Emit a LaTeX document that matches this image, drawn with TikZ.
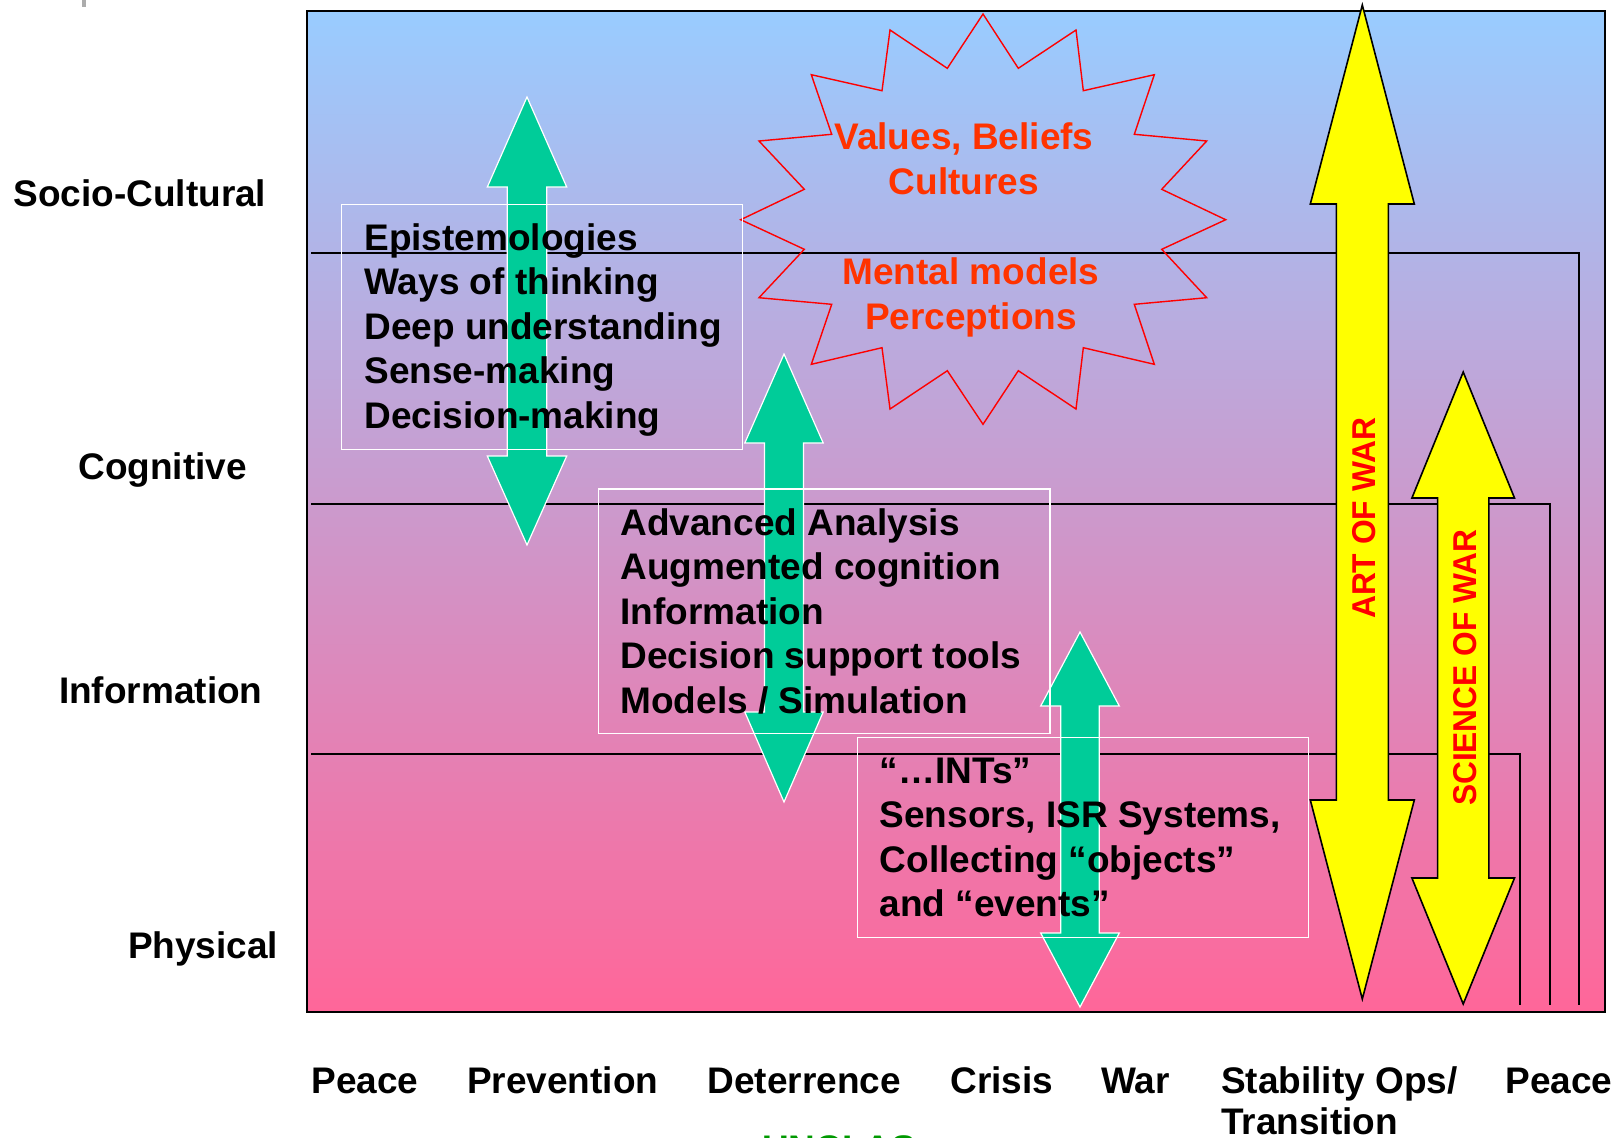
\documentclass[tikz,border=0pt]{standalone}
\usepackage{fontspec}
\setmainfont{Liberation Sans}
\usepackage{graphicx}
\definecolor{skyblue}{HTML}{99CCFF}
\definecolor{rosepink}{HTML}{FF6699}
\definecolor{seagreen}{HTML}{00CC99}
\definecolor{burstred}{HTML}{FF3300}
\definecolor{classgreen}{HTML}{009900}
\definecolor{brightyellow}{HTML}{FFFF00}
% vertical two-headed block arrow:
% #1 style, #2 centre x, #3 top tip, #4 top head base, #5 bottom head base,
% #6 bottom tip, #7 head half width, #8 shaft half width
\newcommand\twoway[8]{%
  \path[#1] (#2,#3) -- ({#2+#7},#4) -- ({#2+#8},#4) -- ({#2+#8},#5) -- ({#2+#7},#5)
    -- (#2,#6) -- ({#2-#7},#5) -- ({#2-#8},#5) -- ({#2-#8},#4) -- ({#2-#7},#4) -- cycle;}
\begin{document}
\begin{tikzpicture}[x=0.5pt,y=-0.5pt,
  txt/.style={font=\bfseries\fontsize{18.5pt}{22pt}\selectfont, anchor=base west, inner sep=0pt},
  bursttxt/.style={font=\bfseries\fontsize{18.5pt}{22pt}\selectfont, anchor=base, inner sep=0pt, text=burstred},
  warlbl/.style={font=\bfseries\fontsize{16.5pt}{20pt}\selectfont, text=red, inner sep=0pt, rotate=90},
  sepline/.style={draw=black, line width=0.75pt},
  greenarrow/.style={fill=seagreen, draw=white, line width=0.6pt, line join=miter},
  yellowarrow/.style={fill=brightyellow, draw=black, line width=0.8pt, line join=miter},
  textbox/.style={draw=white, line width=0.6pt},
  burstline/.style={draw=red, line width=0.7pt, line join=miter}]
\useasboundingbox (0,0) rectangle (1615,1137);

% small grey fragment at the top edge
\fill[gray!65] (82,0) rectangle (85.5,7);

% graded background of the domain chart
\shade[top color=skyblue, bottom color=rosepink] (307,11) rectangle (1605,1012);

% domain boundaries, each turning down at the right
\draw[sepline] (311,253) -| (1579,1005);
\draw[sepline] (311,504) -| (1550,1005);
\draw[sepline] (311,754) -| (1520,1005);

% frame
\draw[black, line width=1pt] (307,11) rectangle (1605,1012);

% starburst
\draw[burstline] (983,14) -- (1018.3,68.3) -- (1076,30) -- (1083.3,90.7) -- (1154.3,74.7)
  -- (1134.3,134.3) -- (1206.7,141) -- (1161.7,189.3) -- (1225.7,219.7) -- (1161.7,249.3)
  -- (1206.7,297.7) -- (1134.3,304.3) -- (1154.3,364.3) -- (1083.3,347.7) -- (1076,409)
  -- (1018.3,370.7) -- (983,424.3) -- (947.3,370.7) -- (890,409) -- (882,347.7)
  -- (811.3,364.3) -- (831.7,304.3) -- (759,297.7) -- (804.3,249.3) -- (740.7,219.7)
  -- (804.3,189.3) -- (759,141) -- (831.7,134.3) -- (811.3,74.7) -- (882,90.7)
  -- (890,30) -- (947.3,68.3) -- cycle;
\node[bursttxt] (values) at (964,149.3) {Values, Beliefs};
\node[bursttxt] (cultures) at (964,194.3) {Cultures};
\node[bursttxt] (mental) at (971,284.3) {Mental models};
\node[bursttxt] (percep) at (971,329.3) {Perceptions};

% green two-way arrows
\twoway{greenarrow}{527}{97}{187}{456}{545}{39.7}{19.7}
\twoway{greenarrow}{784}{354}{443}{712}{802}{39.2}{19.5}
\twoway{greenarrow}{1080}{632}{706}{933}{1007}{39.3}{19.3}

% yellow two-way arrows
\twoway{yellowarrow}{1362.3}{5}{204}{800}{999}{52}{26}
\twoway{yellowarrow}{1463.2}{372}{498}{878}{1004}{51.3}{25.6}
\node[warlbl] (art) at (1364,518.3) {\scalebox{0.963}[1]{ART OF WAR}};
\node[warlbl] (science) at (1464.7,667.8) {\scalebox{0.96}[1]{SCIENCE OF WAR}};

% boxed lists
\draw[textbox] (341.7,204.7) rectangle (742.3,449.3);
\node[txt] (epi) at (364,250) {Epistemologies};
\node[txt] (ways) at (364,294.6) {Ways of thinking};
\node[txt] (deep) at (364,339.2) {Deep understanding};
\node[txt] (sense) at (364,383.8) {Sense-making};
\node[txt] (decm) at (364,428.4) {Decision-making};

\draw[textbox] (598.3,489) rectangle (1050,733.3);
\node[txt] (adv) at (620,535) {Advanced Analysis};
\node[txt] (aug) at (620,579.6) {Augmented cognition};
\node[txt] (info) at (620,624.2) {Information};
\node[txt] (dst) at (620,668.8) {Decision support tools};
\node[txt] (msim) at (620,713.4) {Models / Simulation};

\draw[textbox] (857.7,737.3) rectangle (1308.3,937.3);
\node[txt] (ints) at (879.3,783.3) {“…INTs”};
\node[txt] (sens) at (879.3,827.8) {Sensors, ISR Systems,};
\node[txt] (coll) at (879.3,872.3) {Collecting “objects”};
\node[txt] (evts) at (879.3,916.8) {and “events”};

% domain names
\node[txt] (socio) at (13,206.7) {Socio-Cultural};
\node[txt] (cogn) at (78,479.7) {Cognitive};
\node[txt] (infod) at (58.7,703) {Information};
\node[txt] (phys) at (127.7,958.5) {Physical};

% phases along the bottom
\node[txt] (peace1) at (311,1093) {Peace};
\node[txt] (prev) at (466.6,1093) {Prevention};
\node[txt] (deter) at (707.3,1093) {Deterrence};
\node[txt] (crisis) at (950,1093) {Crisis};
\node[txt] (war) at (1101,1093) {War};
\node[txt] (stab) at (1220.7,1093) {Stability Ops/};
\node[txt] (trans) at (1220.7,1134.5) {Transition};
\node[txt] (peace2) at (1505,1093) {Peace};

% classification marking
\node[txt, text=classgreen] (unclas) at (761.7,1161) {UNCLAS};
\end{tikzpicture}
\end{document}
